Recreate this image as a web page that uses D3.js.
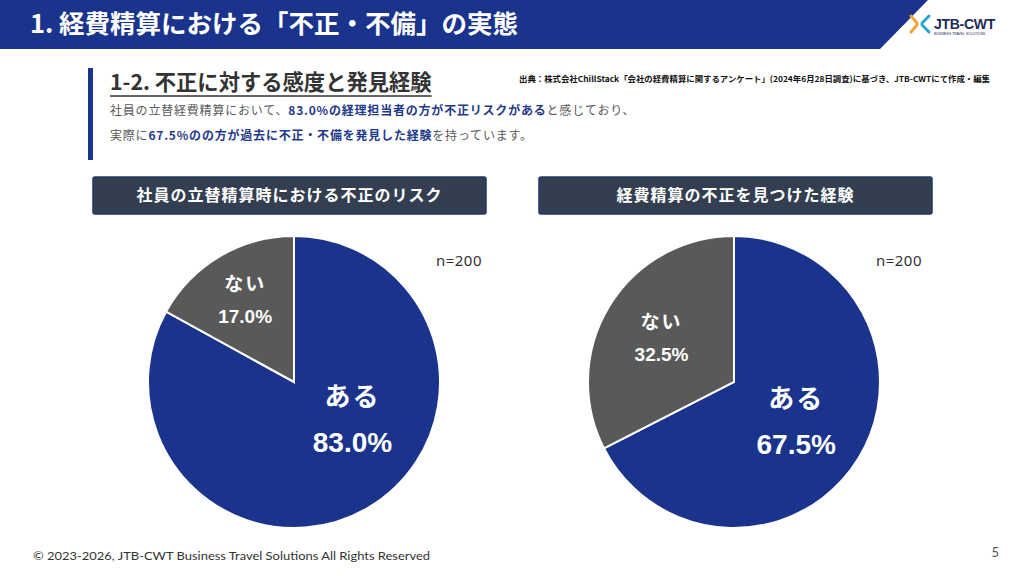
<!DOCTYPE html>
<html>
<head>
<meta charset="utf-8">
<script src="https://cdn.jsdelivr.net/npm/d3@7"></script>
<style>
  body { margin: 0; background: #fff; }
  svg { display: block; }
</style>
</head>
<body>
<div id="slide"></div>
<script>
// chart data
const categories = ["ある", "ない"];
const riskValues = [83.0, 17.0];
const foundValues = [67.5, 32.5];
const chartTitles = ["社員の立替精算時における不正のリスク", "経費精算の不正を見つけた経験"];
const sampleSizes = [200, 200];

const NAVY = "#1a338c";
const GREY = "#595959";
const JP = "'Noto Sans CJK JP', 'Noto Sans', sans-serif";
const NUM = "'Liberation Sans', 'Noto Sans CJK JP', sans-serif";

const svg = d3.select("#slide").append("svg")
  .attr("width", 1024)
  .attr("height", 576)
  .attr("viewBox", "0 0 1024 576");

// header band with slanted right edge
svg.append("path")
  .attr("d", "M0,0 L928,0 L880,49 L0,49 Z")
  .attr("fill", NAVY);
svg.append("text")
  .attr("x", 30).attr("y", 33)
  .attr("fill", "#fff")
  .attr("font-family", JP)
  .attr("font-weight", 700)
  .attr("font-size", 25.5)
  .text("1. 経費精算における「不正・不備」の実態");

// logo (rough)
const logo = svg.append("g").attr("transform", "translate(910,15)");
logo.append("path").attr("d", "M1,1 L7,8 M1,17 L7,10").attr("stroke", "#f2a531").attr("stroke-width", 3).attr("fill", "none").attr("stroke-linecap", "round");
logo.append("path").attr("d", "M19,1 L12,8 M19,17 L12,10").attr("stroke", "#2aa6d6").attr("stroke-width", 3).attr("fill", "none").attr("stroke-linecap", "round");
logo.append("text").attr("x", 24).attr("y", 14)
  .attr("font-family", NUM).attr("font-size", 14).attr("font-weight", 700).attr("fill", "#1d2b5a")
  .attr("letter-spacing", -0.3)
  .text("JTB-CWT");
logo.append("text").attr("x", 24).attr("y", 20)
  .attr("font-family", NUM).attr("font-size", 3.4).attr("fill", "#1d2b5a")
  .text("BUSINESS TRAVEL SOLUTIONS");

// section heading
svg.append("rect").attr("x", 88).attr("y", 68).attr("width", 5).attr("height", 92).attr("fill", NAVY);
const heading = svg.append("text")
  .attr("x", 110).attr("y", 90)
  .attr("fill", "#333")
  .attr("font-family", JP)
  .attr("font-weight", 700)
  .attr("font-size", 21.3)
  .text("1-2. 不正に対する感度と発見経験");
const hw = heading.node().getComputedTextLength();
svg.append("line")
  .attr("x1", 110).attr("x2", 110 + hw)
  .attr("y1", 96).attr("y2", 96)
  .attr("stroke", "#333").attr("stroke-width", 1.5);

svg.append("text")
  .attr("x", 519).attr("y", 82)
  .attr("font-family", JP).attr("font-weight", 700)
  .attr("font-size", 8).attr("fill", "#111")
  .attr("textLength", 471).attr("lengthAdjust", "spacingAndGlyphs")
  .text("出典：株式会社ChillStack「会社の経費精算に関するアンケート」(2024年6月28日調査)に基づき、JTB-CWTにて作成・編集");

const descLines = [
  [["社員の立替経費精算において、", false], ["83.0%の経理担当者の方が不正リスクがある", true], ["と感じており、", false]],
  [["実際に", false], ["67.5%のの方が過去に不正・不備を発見した経験", true], ["を持っています。", false]]
];
descLines.forEach((parts, i) => {
  const t = svg.append("text")
    .attr("x", 110).attr("y", 115 + i * 25)
    .attr("font-family", JP).attr("font-size", 12)
    .attr("letter-spacing", 0.8);
  parts.forEach(([s, hi]) => {
    t.append("tspan")
      .attr("fill", hi ? "#1f3a8a" : "#595959")
      .attr("font-weight", hi ? 700 : 400)
      .text(s);
  });
});

// pies
const charts = [
  { values: riskValues, cx: 294, boxX: 93 },
  { values: foundValues, cx: 734, boxX: 539 }
];
const cy = 382, radius = 146;
// label placement: distance from centre, optional angle (deg) override
const labelSpots = [
  [{ r: 69, a: 122 }, { r: 96 }],
  [{ r: 73 }, { r: 85 }]
];
const labelStyle = [
  { name: 26, value: 28, gap: 48 },
  { name: 19, value: 19, gap: 34 }
];

const pie = d3.pie().sort(null).value(d => d);
const arc = d3.arc().innerRadius(0).outerRadius(radius);
const color = d3.scaleOrdinal().domain(categories).range([NAVY, GREY]);

charts.forEach((c, ci) => {
  // title box
  svg.append("rect")
    .attr("x", c.boxX).attr("y", 177)
    .attr("width", 393).attr("height", 37)
    .attr("rx", 2)
    .attr("fill", "#333f50")
    .attr("stroke", "#1f3864").attr("stroke-width", 1.5);
  svg.append("text")
    .attr("x", c.boxX + 196.5).attr("y", 201)
    .attr("text-anchor", "middle")
    .attr("fill", "#fff")
    .attr("font-family", JP).attr("font-weight", 700)
    .attr("font-size", 16).attr("letter-spacing", 1)
    .text(chartTitles[ci]);

  svg.append("text")
    .attr("x", c.cx + 188).attr("y", 266)
    .attr("text-anchor", "end")
    .attr("fill", "#333")
    .attr("font-family", "'Noto Sans', sans-serif")
    .attr("font-size", 15)
    .attr("letter-spacing", 0.5)
    .text("n=" + sampleSizes[ci]);

  const g = svg.append("g").attr("transform", `translate(${c.cx},${cy})`);
  const slices = pie(c.values);
  g.selectAll("path.slice")
    .data(slices)
    .join("path")
    .attr("class", "slice")
    .attr("d", arc)
    .attr("fill", (d, i) => color(categories[i]))
    .attr("stroke", "#fff")
    .attr("stroke-width", 2);

  slices.forEach((d, i) => {
    const spot = labelSpots[ci][i];
    const ang = spot.a != null ? spot.a * Math.PI / 180 : (d.startAngle + d.endAngle) / 2;
    const lx = Math.sin(ang) * spot.r;
    const ly = -Math.cos(ang) * spot.r;
    const st = labelStyle[i];
    g.append("text")
      .attr("x", lx).attr("y", ly - st.gap / 2)
      .attr("text-anchor", "middle").attr("dominant-baseline", "central")
      .attr("fill", "#fff")
      .attr("font-family", JP).attr("font-weight", 700)
      .attr("font-size", st.name).attr("letter-spacing", 2)
      .text(categories[i]);
    g.append("text")
      .attr("x", lx).attr("y", ly + st.gap / 2)
      .attr("text-anchor", "middle").attr("dominant-baseline", "central")
      .attr("fill", "#fff")
      .attr("font-family", NUM).attr("font-weight", 700)
      .attr("font-size", st.value)
      .text(d.data.toFixed(1) + "%");
  });
});

// footer
svg.append("text")
  .attr("x", 33).attr("y", 560)
  .attr("fill", "#333")
  .attr("font-family", "Lato, sans-serif")
  .attr("font-size", 12)
  .attr("textLength", 397).attr("lengthAdjust", "spacingAndGlyphs")
  .text("© 2023-2026, JTB-CWT Business Travel Solutions All Rights Reserved");
svg.append("text")
  .attr("x", 999).attr("y", 557)
  .attr("text-anchor", "end")
  .attr("fill", "#555")
  .attr("font-family", "Lato, sans-serif")
  .attr("font-size", 13)
  .text("5");
</script>
</body>
</html>
